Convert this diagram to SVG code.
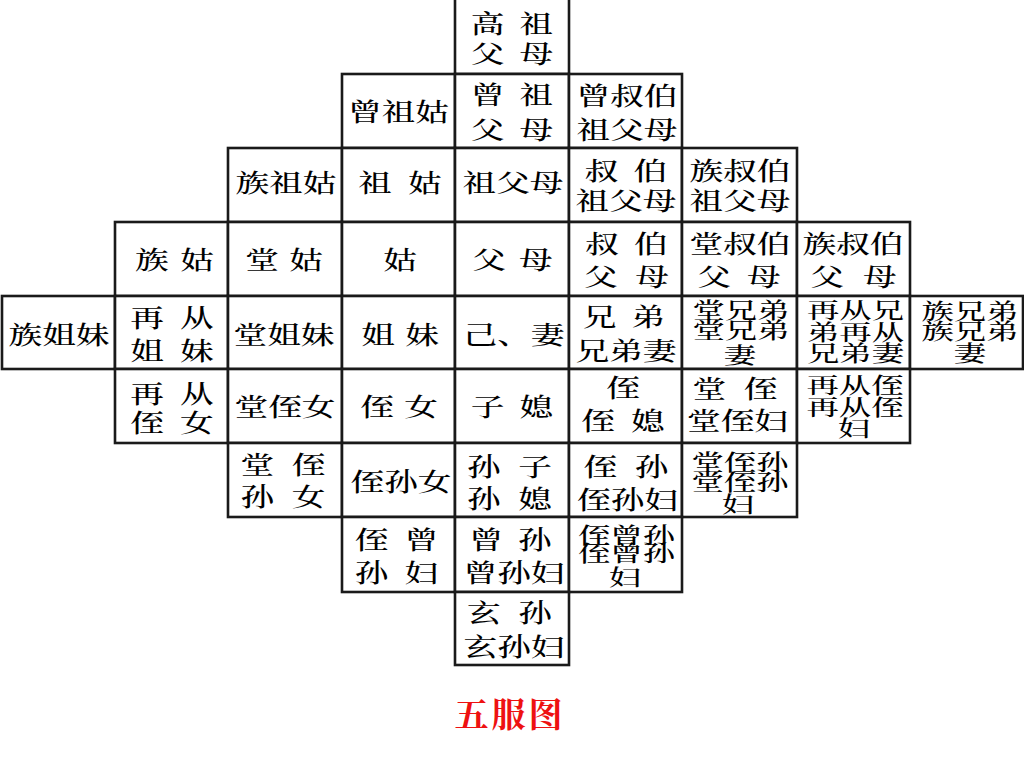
<svg xmlns="http://www.w3.org/2000/svg" width="1024" height="768" viewBox="0 0 1024 768">
<style>
.c{fill:#fff;stroke:#1a1a1a;stroke-width:2.6}
.t{font-family:'Noto Serif CJK SC','Noto Sans CJK SC',serif;font-size:25px;font-weight:500;fill:#000;text-anchor:middle}
.s{font-size:22px}
.title{font-family:'Noto Serif CJK SC','Noto Sans CJK SC',serif;font-size:34px;font-weight:bold;fill:#ee1111;text-anchor:middle;letter-spacing:3px}
</style>
<rect width="1024" height="768" fill="#fff"/>
<g id="cells">
<g id="r0c4"><rect class="c" x="455" y="-3" width="114" height="77"/>
<text class="t" transform="matrix(1.35 0 0 1 512 0)" x="-18 0 18" y="33.5">高 祖</text>
<text class="t" transform="matrix(1.35 0 0 1 512 0)" x="-18 0 18" y="63.5">父 母</text></g>

<g id="r1c3"><rect class="c" x="342" y="74" width="113" height="74"/>
<text class="t" transform="matrix(1.35 0 0 1 398.5 0)" y="121">曾祖姑</text></g>
<g id="r1c4"><rect class="c" x="455" y="74" width="114" height="74"/>
<text class="t" transform="matrix(1.35 0 0 1 512 0)" x="-18 0 18" y="104.5">曾 祖</text>
<text class="t" transform="matrix(1.35 0 0 1 512 0)" x="-18 0 18" y="139.5">父 母</text></g>
<g id="r1c5"><rect class="c" x="569" y="74" width="113" height="74"/>
<text class="t" transform="matrix(1.35 0 0 1 627 0)" y="105.5">曾叔伯</text>
<text class="t" transform="matrix(1.35 0 0 1 627 0)" y="139.5">祖父母</text></g>

<g id="r2c2"><rect class="c" x="228" y="148" width="114" height="74"/>
<text class="t" transform="matrix(1.35 0 0 1 286 0)" y="192.5">族祖姑</text></g>
<g id="r2c3"><rect class="c" x="342" y="148" width="113" height="74"/>
<text class="t" transform="matrix(1.35 0 0 1 400 0)" x="-18.5 0 18.5" y="192.5">祖 姑</text></g>
<g id="r2c4"><rect class="c" x="455" y="148" width="114" height="74"/>
<text class="t" transform="matrix(1.35 0 0 1 513 0)" y="192.5">祖父母</text></g>
<g id="r2c5"><rect class="c" x="569" y="148" width="113" height="74"/>
<text class="t" transform="matrix(1.35 0 0 1 626 0)" x="-18 0 18" y="180.5">叔 伯</text>
<text class="t" transform="matrix(1.35 0 0 1 626 0)" y="210.5">祖父母</text></g>
<g id="r2c6"><rect class="c" x="682" y="148" width="115" height="74"/>
<text class="t" transform="matrix(1.35 0 0 1 740 0)" y="180.5">族叔伯</text>
<text class="t" transform="matrix(1.35 0 0 1 740 0)" y="210.5">祖父母</text></g>

<g id="r3c1"><rect class="c" x="115" y="222" width="113" height="74"/>
<text class="t" transform="matrix(1.35 0 0 1 174.5 0)" x="-16.7 0 16.7" y="269.5">族 姑</text></g>
<g id="r3c2"><rect class="c" x="228" y="222" width="114" height="74"/>
<text class="t" transform="matrix(1.35 0 0 1 284 0)" x="-16.3 0 16.3" y="269.5">堂 姑</text></g>
<g id="r3c3"><rect class="c" x="342" y="222" width="113" height="74"/>
<text class="t" transform="matrix(1.35 0 0 1 400 0)" y="269.5">姑</text></g>
<g id="r3c4"><rect class="c" x="455" y="222" width="114" height="74"/>
<text class="t" transform="matrix(1.35 0 0 1 512.5 0)" x="-17.4 0 17.4" y="269.5">父 母</text></g>
<g id="r3c5"><rect class="c" x="569" y="222" width="113" height="74"/>
<text class="t" transform="matrix(1.35 0 0 1 626.5 0)" x="-18 0 18" y="253.5">叔 伯</text>
<text class="t" transform="matrix(1.35 0 0 1 626.5 0)" x="-19 0 19" y="286.5">父 母</text></g>
<g id="r3c6"><rect class="c" x="682" y="222" width="115" height="74"/>
<text class="t" transform="matrix(1.35 0 0 1 740 0)" y="253.5">堂叔伯</text>
<text class="t" transform="matrix(1.35 0 0 1 739 0)" x="-18.5 0 18.5" y="286.5">父 母</text></g>
<g id="r3c7"><rect class="c" x="797" y="222" width="113" height="74"/>
<text class="t" transform="matrix(1.35 0 0 1 853 0)" y="253.5">族叔伯</text>
<text class="t" transform="matrix(1.35 0 0 1 853.5 0)" x="-19.5 0 19.5" y="286.5">父 母</text></g>

<g id="r4c0"><rect class="c" x="2" y="296" width="113" height="73"/>
<text class="t" transform="matrix(1.35 0 0 1 59 0)" y="344">族姐妹</text></g>
<g id="r4c1"><rect class="c" x="115" y="296" width="113" height="73"/>
<text class="t" transform="matrix(1.35 0 0 1 172 0)" x="-18.5 0 18.5" y="327.5">再 从</text>
<text class="t" transform="matrix(1.35 0 0 1 172 0)" x="-18.5 0 18.5" y="360.5">姐 妹</text></g>
<g id="r4c2"><rect class="c" x="228" y="296" width="114" height="73"/>
<text class="t" transform="matrix(1.35 0 0 1 284 0)" y="344">堂姐妹</text></g>
<g id="r4c3"><rect class="c" x="342" y="296" width="113" height="73"/>
<text class="t" transform="matrix(1.35 0 0 1 400 0)" x="-16.3 0 16.3" y="344">姐 妹</text></g>
<g id="r4c4"><rect class="c" x="455" y="296" width="114" height="73"/>
<text class="t" transform="matrix(1.35 0 0 1 514 0)" y="344">己、妻</text></g>
<g id="r4c5"><rect class="c" x="569" y="296" width="113" height="73"/>
<text class="t" transform="matrix(1.35 0 0 1 624 0)" x="-18 0 18" y="326.5">兄 弟</text>
<text class="t" transform="matrix(1.35 0 0 1 626 0)" y="360.5">兄弟妻</text></g>
<g id="r4c6"><rect class="c" x="682" y="296" width="115" height="73"/>
<text class="t s" transform="matrix(1.47 0 0 1 741 0)" y="318.4">堂兄弟</text>
<text class="t s" transform="matrix(1.47 0 0 1 741 0)" y="338.4">堂兄弟</text>
<text class="t s" transform="matrix(1.47 0 0 1 740 0)" y="363.4">妻</text></g>
<g id="r4c7"><rect class="c" x="797" y="296" width="113" height="73"/>
<text class="t s" transform="matrix(1.47 0 0 1 855.5 0)" y="318.4">再从兄</text>
<text class="t s" transform="matrix(1.47 0 0 1 855.5 0)" y="340.4">弟再从</text>
<text class="t s" transform="matrix(1.47 0 0 1 855.5 0)" y="361.4">兄弟妻</text></g>
<g id="r4c8"><rect class="c" x="910" y="296" width="113" height="73"/>
<text class="t s" transform="matrix(1.47 0 0 1 970 0)" y="319.4">族兄弟</text>
<text class="t s" transform="matrix(1.47 0 0 1 970 0)" y="339.4">族兄弟</text>
<text class="t s" transform="matrix(1.47 0 0 1 970 0)" y="361.4">妻</text></g>

<g id="r5c1"><rect class="c" x="115" y="369" width="113" height="74"/>
<text class="t" transform="matrix(1.35 0 0 1 172 0)" x="-18.5 0 18.5" y="403.5">再 从</text>
<text class="t" transform="matrix(1.35 0 0 1 172 0)" x="-18.5 0 18.5" y="432.5">侄 女</text></g>
<g id="r5c2"><rect class="c" x="228" y="369" width="114" height="74"/>
<text class="t" transform="matrix(1.35 0 0 1 285 0)" y="416.5">堂侄女</text></g>
<g id="r5c3"><rect class="c" x="342" y="369" width="113" height="74"/>
<text class="t" transform="matrix(1.35 0 0 1 399 0)" x="-16.3 0 16.3" y="416.5">侄 女</text></g>
<g id="r5c4"><rect class="c" x="455" y="369" width="114" height="74"/>
<text class="t" transform="matrix(1.35 0 0 1 512 0)" x="-18 0 18" y="416.5">子 媳</text></g>
<g id="r5c5"><rect class="c" x="569" y="369" width="113" height="74"/>
<text class="t" transform="matrix(1.35 0 0 1 623 0)" y="397.5">侄</text>
<text class="t" transform="matrix(1.35 0 0 1 623 0)" x="-18.5 0 18.5" y="430.5">侄 媳</text></g>
<g id="r5c6"><rect class="c" x="682" y="369" width="115" height="74"/>
<text class="t" transform="matrix(1.35 0 0 1 735 0)" x="-19 0 19" y="398.5">堂 侄</text>
<text class="t" transform="matrix(1.35 0 0 1 737.5 0)" y="430.5">堂侄妇</text></g>
<g id="r5c7"><rect class="c" x="797" y="369" width="113" height="74"/>
<text class="t s" transform="matrix(1.47 0 0 1 855 0)" y="393.4">再从侄</text>
<text class="t s" transform="matrix(1.47 0 0 1 855 0)" y="415.4">再从侄</text>
<text class="t s" transform="matrix(1.47 0 0 1 854 0)" y="436.4">妇</text></g>

<g id="r6c2"><rect class="c" x="228" y="443" width="114" height="74"/>
<text class="t" transform="matrix(1.35 0 0 1 283 0)" x="-19 0 19" y="474.5">堂 侄</text>
<text class="t" transform="matrix(1.35 0 0 1 283 0)" x="-19 0 19" y="506.5">孙 女</text></g>
<g id="r6c3"><rect class="c" x="342" y="443" width="113" height="74"/>
<text class="t" transform="matrix(1.35 0 0 1 401 0)" y="491.5">侄孙女</text></g>
<g id="r6c4"><rect class="c" x="455" y="443" width="114" height="74"/>
<text class="t" transform="matrix(1.35 0 0 1 509.5 0)" x="-19 0 19" y="476.5">孙 子</text>
<text class="t" transform="matrix(1.35 0 0 1 509.5 0)" x="-19 0 19" y="508.5">孙 媳</text></g>
<g id="r6c5"><rect class="c" x="569" y="443" width="113" height="74"/>
<text class="t" transform="matrix(1.35 0 0 1 626 0)" x="-19 0 19" y="476.5">侄 孙</text>
<text class="t" transform="matrix(1.35 0 0 1 627.5 0)" y="509.5">侄孙妇</text></g>
<g id="r6c6"><rect class="c" x="682" y="443" width="115" height="74"/>
<text class="t s" transform="matrix(1.47 0 0 1 740 0)" y="470.4">堂侄孙</text>
<text class="t s" transform="matrix(1.47 0 0 1 740 0)" y="490.4">堂侄孙</text>
<text class="t s" transform="matrix(1.47 0 0 1 738 0)" y="512.4">妇</text></g>

<g id="r7c3"><rect class="c" x="342" y="517" width="113" height="75"/>
<text class="t" transform="matrix(1.35 0 0 1 396.5 0)" x="-18.5 0 18.5" y="549.5">侄 曾</text>
<text class="t" transform="matrix(1.35 0 0 1 396.5 0)" x="-18.5 0 18.5" y="582.5">孙 妇</text></g>
<g id="r7c4"><rect class="c" x="455" y="517" width="114" height="75"/>
<text class="t" transform="matrix(1.35 0 0 1 510.5 0)" x="-18 0 18" y="549.5">曾 孙</text>
<text class="t" transform="matrix(1.35 0 0 1 514 0)" y="582.5">曾孙妇</text></g>
<g id="r7c5"><rect class="c" x="569" y="517" width="113" height="75"/>
<text class="t s" transform="matrix(1.47 0 0 1 626.5 0)" y="543.4">侄曾孙</text>
<text class="t s" transform="matrix(1.47 0 0 1 626.5 0)" y="561.4">侄曾孙</text>
<text class="t s" transform="matrix(1.47 0 0 1 625 0)" y="585.4">妇</text></g>

<g id="r8c4"><rect class="c" x="455" y="592" width="114" height="73"/>
<text class="t" transform="matrix(1.35 0 0 1 509.5 0)" x="-19 0 19" y="622.5">玄 孙</text>
<text class="t" transform="matrix(1.35 0 0 1 514 0)" y="656.5">玄孙妇</text></g>
</g>
<g id="connectors"/>
<text id="title" class="title" x="510" y="727">五服图</text>
</svg>
